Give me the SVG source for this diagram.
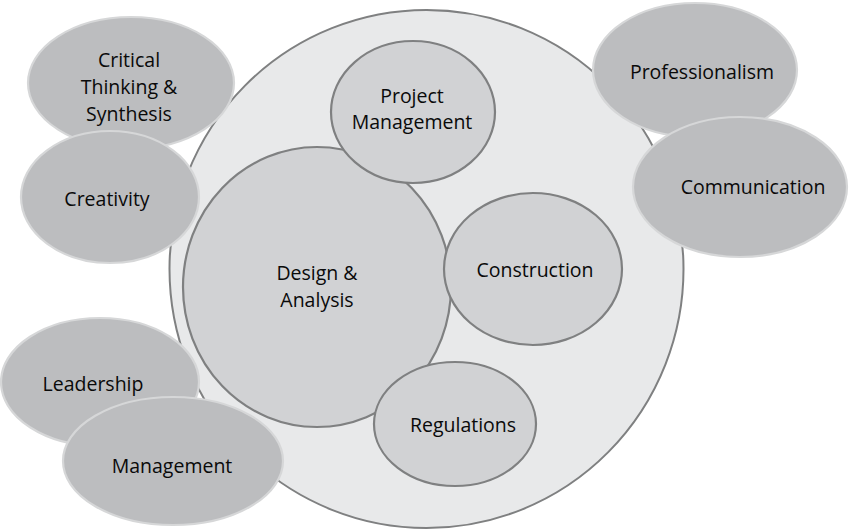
<svg xmlns="http://www.w3.org/2000/svg" width="850" height="531" viewBox="0 0 850 531">
<style>
.outer{fill:#e8e9ea;stroke:#7f8081;stroke-width:2}
.inner{fill:#d1d2d4;stroke:#7f8081;stroke-width:2.2}
.side{fill:#bcbdbf;stroke:#d6d7d8;stroke-width:2.2}
text{font-family:"Open Sans","DejaVu Sans",sans-serif;font-size:19.5px;fill:#0a0a0a;text-anchor:middle;dominant-baseline:central}
</style>
<rect width="850" height="531" fill="#fff"/>
<g id="discipline">
<ellipse class="outer" cx="426.5" cy="269" rx="257" ry="259"/>
</g>
<g id="design-analysis">
<ellipse class="inner" cx="317" cy="287" rx="134" ry="140"/>
<text x="317" y="272">Design &amp;</text>
<text x="317" y="299">Analysis</text>
</g>
<g id="project-management">
<ellipse class="inner" cx="413" cy="112" rx="82" ry="71"/>
<text x="412" y="95">Project</text>
<text x="412" y="121">Management</text>
</g>
<g id="construction">
<ellipse class="inner" cx="533" cy="269" rx="89" ry="76"/>
<text x="535" y="269">Construction</text>
</g>
<g id="regulations">
<ellipse class="inner" cx="455" cy="424" rx="81" ry="62"/>
<text x="463" y="424">Regulations</text>
</g>
<g id="critical-thinking">
<ellipse class="side" cx="131" cy="83" rx="103" ry="66"/>
<text x="129" y="59">Critical</text>
<text x="129" y="86">Thinking &amp;</text>
<text x="129" y="113">Synthesis</text>
</g>
<g id="creativity">
<ellipse class="side" cx="110" cy="197" rx="89" ry="66"/>
<text x="107" y="198">Creativity</text>
</g>
<g id="professionalism">
<ellipse class="side" cx="695" cy="70" rx="102" ry="67"/>
<text x="702" y="71">Professionalism</text>
</g>
<g id="communication">
<ellipse class="side" cx="740" cy="187" rx="107" ry="70"/>
<text x="753" y="186">Communication</text>
</g>
<g id="leadership">
<ellipse class="side" cx="100" cy="382" rx="99" ry="64"/>
<text x="93" y="383">Leadership</text>
</g>
<g id="management">
<ellipse class="side" cx="173" cy="461" rx="110" ry="64"/>
<text x="172" y="465">Management</text>
</g>
<g id="connectors"></g>
</svg>
